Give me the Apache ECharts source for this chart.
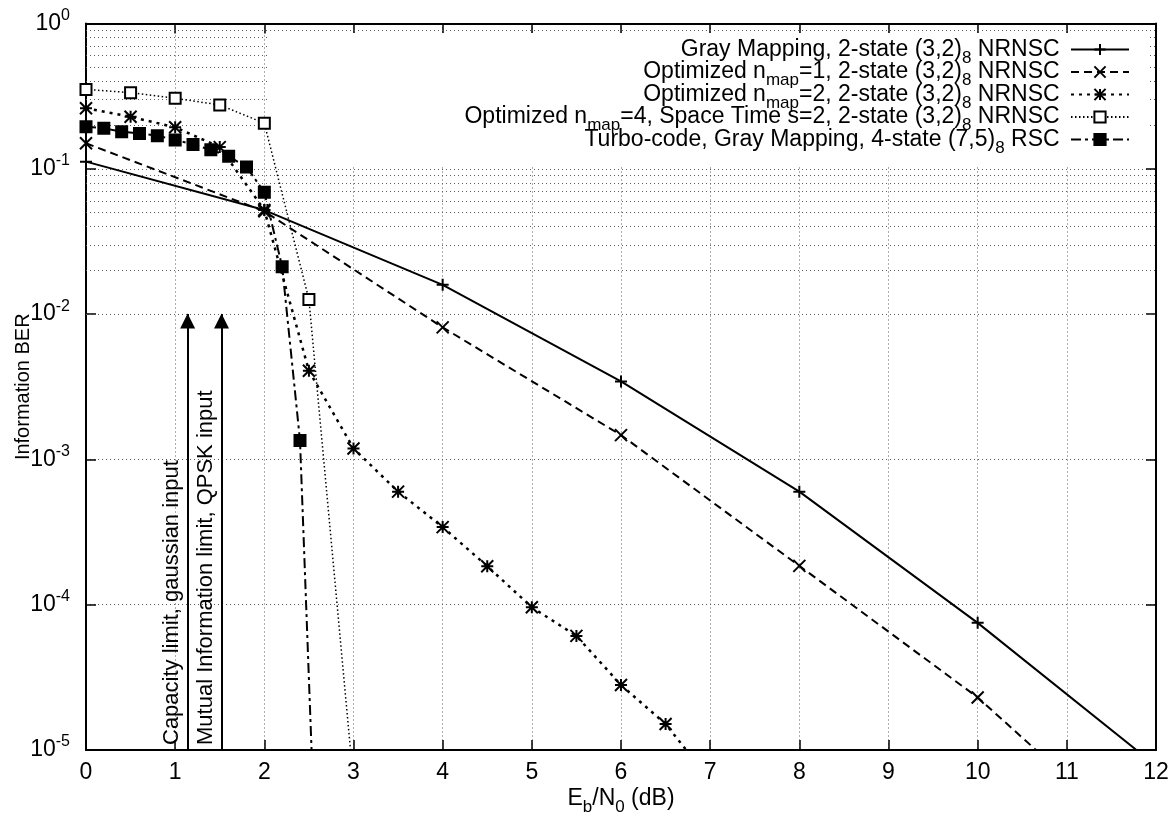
<!DOCTYPE html>
<html>
<head>
<meta charset="utf-8">
<title>Information BER vs Eb/N0</title>
<script src="https://cdn.jsdelivr.net/npm/echarts@6/dist/echarts.min.js"></script>
<style>
  html, body { margin: 0; padding: 0; background: #fff; }
  #chart { width: 1174px; height: 817px; }
</style>
</head>
<body>
<div id="chart"></div>
<script>
// Eb/N0 (dB) points and information BER of each curve
var grayEbn0 = [0, 2, 4, 6, 8, 10, 12];
var grayBer = [0.112, 0.052, 0.0159, 0.00344, 0.0006, 0.000075, 0.0000078];

var nmap1Ebn0 = [0, 2, 4, 6, 8, 10, 12];
var nmap1Ber = [0.15, 0.051, 0.0081, 0.00147, 0.000185, 0.000023, 0.0000018];

var nmap2Ebn0 = [0, 0.5, 1, 1.5, 2, 2.5, 3, 3.5, 4, 4.5, 5, 5.5, 6, 6.5, 7];
var nmap2Ber = [0.261, 0.228, 0.193, 0.141, 0.052, 0.00407, 0.00119, 0.0006, 0.000342,
  0.000184, 0.000096, 0.000061, 0.000028, 0.0000151, 0.0000062];

var nmap4Ebn0 = [0, 0.5, 1, 1.5, 2, 2.5, 3];
var nmap4Ber = [0.352, 0.334, 0.306, 0.275, 0.206, 0.0126, 0.000006];

var turboEbn0 = [0, 0.2, 0.4, 0.6, 0.8, 1.0, 1.2, 1.4, 1.6, 1.8, 2.0, 2.2, 2.4, 2.6];
var turboBer = [0.195, 0.19, 0.18, 0.175, 0.169, 0.158, 0.147, 0.135, 0.122, 0.103,
  0.069, 0.0212, 0.00135, 0.0000007];

// theoretical limits (arrows)
var limitEbn0 = [1.14, 1.52];
var limitNames = ['Capacity limit, gaussian input', 'Mutual Information limit, QPSK input'];
var limitBer = [1e-5, 1e-2];

var seriesNames = [
  'Gray Mapping, 2-state (3,2)8 NRNSC',
  'Optimized nmap=1, 2-state (3,2)8 NRNSC',
  'Optimized nmap=2, 2-state (3,2)8 NRNSC',
  'Optimized nmap=4, Space Time s=2, 2-state (3,2)8 NRNSC',
  'Turbo-code, Gray Mapping, 4-state (7,5)8 RSC'
];
// same names with sub-scripts for the key
var legendRich = {};
legendRich[seriesNames[0]] = '{t|Gray Mapping, 2-state (3,2)}{s|8}{t| NRNSC }';
legendRich[seriesNames[1]] = '{t|Optimized n}{s|map}{t|=1, 2-state (3,2)}{s|8}{t| NRNSC }';
legendRich[seriesNames[2]] = '{t|Optimized n}{s|map}{t|=2, 2-state (3,2)}{s|8}{t| NRNSC }';
legendRich[seriesNames[3]] = '{t|Optimized n}{s|map}{t|=4, Space Time s=2, 2-state (3,2)}{s|8}{t| NRNSC }';
legendRich[seriesNames[4]] = '{t|Turbo-code, Gray Mapping, 4-state (7,5)}{s|8}{t| RSC }';

var FONT = '"Liberation Sans", Arial, Helvetica, sans-serif';
var GRID_COLOR = '#5a5a5a';
var GRID_DASH = [1, 3];

function pts(xs, ys) {
  return xs.map(function (x, i) { return [x, ys[i]]; });
}

// minor grid lines 2..9 x 10^e
var minorLines = [];
for (var e = -5; e < 0; e++) {
  for (var k = 2; k <= 9; k++) {
    minorLines.push({yAxis: k * Math.pow(10, e)});
  }
}

var myChart = echarts.init(document.getElementById('chart'));

function curve(name, data, symbol, size, dash, width) {
  return {
    type: 'line',
    name: name,
    data: data,
    symbol: symbol,
    symbolSize: size,
    showAllSymbol: true,
    clip: true,
    z: 3,
    lineStyle: {color: '#000', width: width, type: dash},
    itemStyle: {color: '#000', borderColor: '#000', borderWidth: 2},
    emphasis: {disabled: true}
  };
}

// main text on top of the line box, subscript pushed to its bottom
var subRich = {
  t: {fontSize: 23, height: 23, lineHeight: 23, verticalAlign: 'top', fontFamily: FONT, color: '#000'},
  s: {fontSize: 17, height: 6, lineHeight: 6, verticalAlign: 'bottom', fontFamily: FONT, color: '#000'}
};

var option = {
  animation: false,
  backgroundColor: '#fff',
  textStyle: {fontFamily: FONT},
  grid: {left: 86, right: 18, top: 23.5, bottom: 67, containLabel: false, outerBoundsMode: 'none'},
  legend: {
    data: seriesNames,
    orient: 'vertical',
    right: 24,
    top: 33,
    align: 'right',
    itemWidth: 58,
    itemHeight: 14,
    itemGap: -6,
    padding: [5, 20, 10, 195],
    backgroundColor: '#fff',
    selectedMode: false,
    z: 2,
    formatter: function (name) { return legendRich[name]; },
    textStyle: {color: '#000', fontFamily: FONT, fontSize: 23, rich: subRich}
  },
  xAxis: [{
    type: 'value',
    min: 0,
    max: 12,
    interval: 1,
    position: 'bottom',
    name: '{t|E}{s|b}{t|/N}{s|0}{t| (dB)}',
    nameLocation: 'middle',
    nameGap: 37,
    nameMoveOverlap: false,
    nameTextStyle: {rich: subRich},
    axisLine: {onZero: false, lineStyle: {color: '#000', width: 2}},
    axisTick: {inside: true, length: 10, lineStyle: {color: '#000', width: 1.5}},
    axisLabel: {color: '#000', fontSize: 23, margin: 11, fontFamily: FONT},
    splitLine: {show: true, lineStyle: {color: GRID_COLOR, type: GRID_DASH, width: 1}}
  }, {
    type: 'value',
    min: 0,
    max: 12,
    interval: 1,
    position: 'top',
    axisLine: {onZero: false, lineStyle: {color: '#000', width: 2}},
    axisTick: {inside: true, length: 10, lineStyle: {color: '#000', width: 1.5}},
    axisLabel: {show: false},
    splitLine: {show: false}
  }],
  yAxis: [{
    type: 'log',
    logBase: 10,
    min: 1e-5,
    max: 1,
    position: 'left',
    name: 'Information BER',
    nameLocation: 'middle',
    nameGap: 53,
    nameMoveOverlap: false,
    nameTextStyle: {color: '#000', fontSize: 20, fontFamily: FONT},
    axisLine: {show: true, onZero: false, lineStyle: {color: '#000', width: 2}},
    axisTick: {show: true, inside: true, length: 10, lineStyle: {color: '#000', width: 1.5}},
    axisLabel: {
      margin: 16,
      formatter: function (v) {
        return '{b|10}{p|' + Math.round(Math.log10(v)) + '}';
      },
      rich: {
        b: {fontSize: 23, height: 24, lineHeight: 24, verticalAlign: 'bottom', fontFamily: FONT, color: '#000'},
        p: {fontSize: 16, height: 8, lineHeight: 8, verticalAlign: 'top', fontFamily: FONT, color: '#000'}
      }
    },
    splitLine: {show: true, lineStyle: {color: GRID_COLOR, type: GRID_DASH, width: 1}}
  }, {
    type: 'log',
    logBase: 10,
    min: 1e-5,
    max: 1,
    position: 'right',
    axisLine: {show: true, onZero: false, lineStyle: {color: '#000', width: 2}},
    axisTick: {show: true, inside: true, length: 10, lineStyle: {color: '#000', width: 1.5}},
    axisLabel: {show: false},
    splitLine: {show: false}
  }],
  series: [
    {
      type: 'line',
      name: 'minor grid',
      data: [],
      silent: true,
      markLine: {
        silent: true,
        z: 1,
        symbol: ['none', 'none'],
        label: {show: false},
        emphasis: {disabled: true},
        lineStyle: {color: GRID_COLOR, type: GRID_DASH, width: 1},
        data: minorLines
      }
    },
    curve(seriesNames[0], pts(grayEbn0, grayBer), 'path://M0,5L10,5M5,0L5,10', 12, 'solid', 2),
    curve(seriesNames[1], pts(nmap1Ebn0, nmap1Ber), 'path://M0,0L10,10M10,0L0,10', 12, [8, 5], 2),
    curve(seriesNames[2], pts(nmap2Ebn0, nmap2Ber), 'path://M0,0L10,10M10,0L0,10M5,0L5,10M0,5L10,5', 12, [3, 5], 2.5),
    curve(seriesNames[3], pts(nmap4Ebn0, nmap4Ber), 'emptyRect', 11, [1.5, 2.5], 1.5),
    curve(seriesNames[4], pts(turboEbn0, turboBer), 'rect', 11, [10, 4, 3, 4], 2),
    {
      type: 'line',
      name: 'limits',
      data: [],
      silent: true,
      markLine: {
        silent: true,
        z: 4,
        symbol: ['none', 'triangle'],
        symbolSize: 15,
        symbolOffset: [[0, 0], [0, 7]],
        emphasis: {disabled: true},
        lineStyle: {color: '#000', width: 2, type: 'solid'},
        label: {
          show: true,
          position: 'insideStartTop',
          formatter: '{b}',
          color: '#000',
          fontSize: 22,
          fontFamily: FONT,
          distance: 5
        },
        data: limitEbn0.map(function (x, i) {
          return [{coord: [x, limitBer[0]], name: limitNames[i]}, {coord: [x, limitBer[1]]}];
        })
      }
    }
  ]
};

myChart.setOption(option);
</script>
</body>
</html>
